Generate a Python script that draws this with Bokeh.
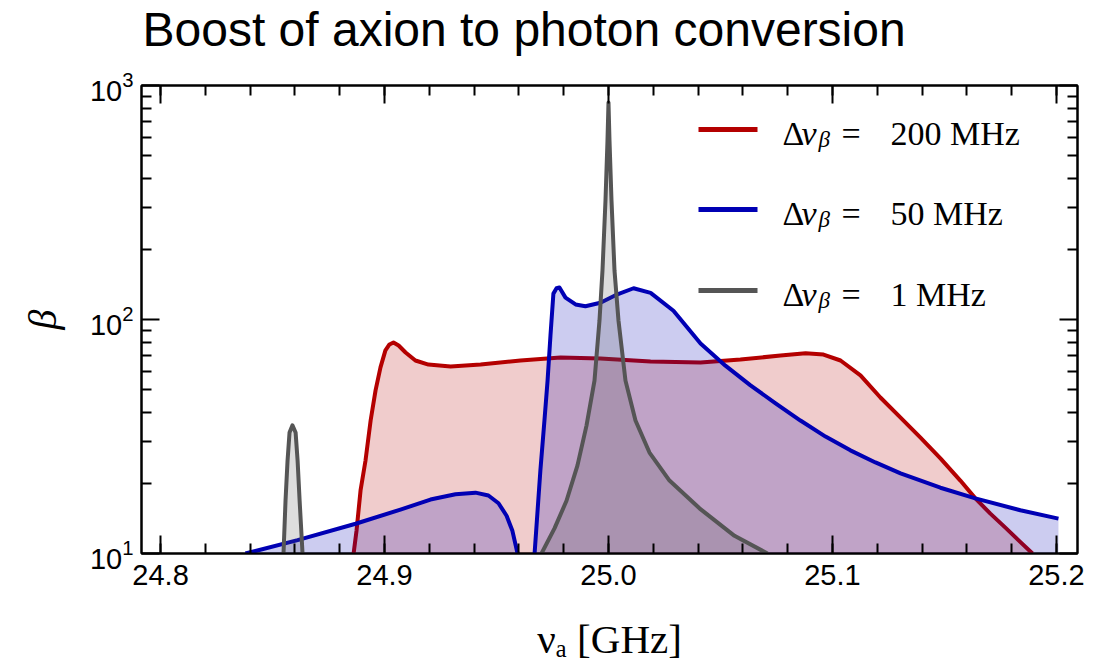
import math
from bokeh.plotting import figure
from bokeh.models import (Range1d, LinearAxis, LogAxis, SingleIntervalTicker, FixedTicker,
                          PrintfTickFormatter, LogTickFormatter, CustomJSTickFormatter,
                          Label, BoxAnnotation)
from bokeh.embed import file_html
from bokeh.resources import INLINE

nan = float("nan")

# ---- data ----
red_x = [24.8862, 24.8875, 24.8893, 24.8915, 24.8938, 24.8960, 24.8982, 24.9004, 24.9022,
         24.9040, 24.9063, 24.9094, 24.9138, 24.9196, 24.9295, 24.9429, 24.9607, 24.9786,
         24.9964, 25.0188, 25.0411, 25.0589, 25.0768, 25.0880, 25.0960, 25.1036, 25.1125,
         25.1214, 25.1304, 25.1393, 25.1482, 25.1571, 25.1638, 25.1705, 25.1772, 25.1830,
         25.1893]
red_y = [10, 12.5, 18.6, 24.9, 37.0, 49.8, 62.4, 73.8, 78.2,
         79.8, 77.4, 72.3, 66.8, 64.2, 63.0, 64.2, 66.8, 68.8,
         68.1, 66.2, 65.5, 67.4, 70.2, 71.7, 70.8, 66.8, 57.7,
         46.4, 38.1, 31.3, 25.5, 20.5, 17.2, 14.8, 12.9, 11.4,
         10]

blue_x = [24.8379, 24.8612, 24.8871, 24.9071, 24.9205, 24.9317, 24.9406, 24.9464, 24.9509,
          24.9545, 24.9571, 24.9594, nan,
          24.9670, 24.9696, 24.9714, 24.9728, 24.9741, 24.9754, 24.9768, 24.9781, 24.9808,
          24.9853, 24.9897, 24.9964, 25.0031, 25.0112, 25.0188, 25.0290, 25.0411, 25.0522,
          25.0634, 25.0746, 25.0857, 25.0969, 25.1080, 25.1192, 25.1304, 25.1482, 25.1638,
          25.1839, 25.2009]
blue_y = [10, 11.4, 13.4, 15.4, 17.0, 17.9, 18.2, 17.7, 16.4,
          14.5, 12.5, 10, nan,
          10, 22.7, 37.0, 54.8, 85.5, 129, 136, 137, 124,
          116, 114, 118, 127, 136, 130, 109, 78.9, 63.5,
          52.3, 43.8, 37.0, 31.6, 27.6, 24.5, 22.0, 19.1, 17.2,
          15.3, 14.1]

gray_x = [24.8549, 24.8558, 24.8567, 24.8576, 24.8589, 24.8603, 24.8612, 24.8621, 24.8634, nan,
          24.97009, 24.97589, 24.98125, 24.98616, 24.99018, 24.99375, 24.99598, 24.99732,
          24.99866, 24.99955, 25.0,
          25.00045, 25.00134, 25.00268, 25.00446, 25.00759, 25.01205, 25.01830, 25.02723,
          25.04063, 25.05625, 25.07098]
gray_y = [10, 16.8, 24.9, 32.9, 35.3, 32.9, 24.9, 16.8, 10, nan,
          10, 12.8, 16.8, 23.8, 35.2, 54.8, 99.0, 162,
          323, 582, 846,
          582, 323, 162, 99.0, 54.8, 37.0, 27.0, 20.5,
          15.6, 11.9, 10]

series_labels = ["200 MHz", "50 MHz", "1 MHz"]
x_ticks_interval = 0.1
y_major_ticks = [10, 100, 1000]
y_minor_ticks = [m * 10 ** k for k in (1, 2) for m in range(2, 10)]
title_text = "Boost of axion to photon conversion"

RED, BLUE, GRAY = "#b40000", "#0000b4", "#555555"
colors = [RED, BLUE, GRAY]

p = figure(width=1102, height=670, y_axis_type="log",
           x_range=Range1d(24.7915, 25.2094), y_range=Range1d(10, 1000),
           output_backend="svg", toolbar_location=None,
           min_border_left=141, min_border_right=25, min_border_top=85, min_border_bottom=117,
           title=title_text)
p.title.text_font = "Liberation Sans"
p.title.text_font_size = "48px"
p.title.text_font_style = "normal"
p.title.text_color = "black"
p.title.align = "left"
p.title.offset = 1
p.title.standoff = 0
p.grid.visible = False
p.background_fill_color = "white"
p.border_fill_color = "white"
p.outline_line_color = "black"
p.outline_line_width = 2


def segments(xs, ys):
    out, cx, cy = [], [], []
    for x, y in zip(xs, ys):
        if math.isnan(x):
            if cx:
                out.append((cx, cy))
            cx, cy = [], []
        else:
            cx.append(x)
            cy.append(y)
    if cx:
        out.append((cx, cy))
    return out


for xs, ys, c in [(red_x, red_y, RED), (blue_x, blue_y, BLUE), (gray_x, gray_y, GRAY)]:
    for sx, sy in segments(xs, ys):
        p.varea(x=sx, y1=[10] * len(sx), y2=sy, fill_color=c, fill_alpha=0.2)
    p.line(xs, ys, line_color=c, line_width=4, line_join="round")


def style(ax, labels=True):
    ax.axis_line_width = 2
    ax.axis_line_color = "black"
    ax.major_tick_in = 18
    ax.major_tick_out = 0
    ax.minor_tick_in = 10
    ax.minor_tick_out = 0
    ax.major_tick_line_width = 2
    ax.minor_tick_line_width = 2
    ax.major_tick_line_color = "black"
    ax.minor_tick_line_color = "black"
    ax.major_label_text_font = "Liberation Sans"
    ax.major_label_text_font_size = "29px"
    ax.major_label_text_color = "black"
    ax.major_label_standoff = 11
    if not labels:
        ax.formatter = CustomJSTickFormatter(code="return ''")
        ax.major_label_text_font_size = "0px"
        ax.major_label_standoff = 0


p.xaxis.ticker = SingleIntervalTicker(interval=x_ticks_interval, num_minor_ticks=5)
p.xaxis.formatter = PrintfTickFormatter(format="%.1f")
style(p.xaxis[0])
p.xaxis.axis_label = "νₐ [GHz]"
p.xaxis.axis_label_text_font = "Liberation Serif"
p.xaxis.axis_label_text_font_style = "normal"
p.xaxis.axis_label_text_font_size = "41px"
p.xaxis.axis_label_text_color = "black"
p.xaxis.axis_label_standoff = 28

p.yaxis.ticker = FixedTicker(ticks=y_major_ticks, minor_ticks=y_minor_ticks)
p.yaxis.formatter = LogTickFormatter()
style(p.yaxis[0])
p.yaxis.major_label_standoff = 8
p.yaxis.axis_label = "β"
p.yaxis.axis_label_text_font = "Liberation Serif"
p.yaxis.axis_label_text_font_style = "italic"
p.yaxis.axis_label_text_font_size = "40px"
p.yaxis.axis_label_text_color = "black"
p.yaxis.axis_label_standoff = 22

top = LinearAxis(ticker=SingleIntervalTicker(interval=x_ticks_interval, num_minor_ticks=5))
style(top, labels=False)
# blank spacer label to leave room between the title and the frame
top.axis_label = " "
top.axis_label_text_font_size = "1px"
top.axis_label_standoff = 26
p.add_layout(top, "above")
right = LogAxis(ticker=FixedTicker(ticks=y_major_ticks, minor_ticks=y_minor_ticks))
style(right, labels=False)
p.add_layout(right, "right")

FL, FB = 141, 553  # frame left / bottom in page pixels
DY = 10            # baseline correction


def lab(px, py, text, size, style="normal"):
    p.add_layout(Label(x=px - FL, y=FB - py + DY, x_units="screen", y_units="screen", text=text,
                       text_font="Liberation Serif", text_font_size=size,
                       text_font_style=style, text_baseline="alphabetic",
                       text_align="left", text_color="black"))


# legend
rows = [(129, 143), (209, 223), (290, 304)]
for (ly, by), c, s in zip(rows, colors, series_labels):
    p.add_layout(BoxAnnotation(left=698 - FL, right=757 - FL, top=FB - (ly - 2.5),
                               bottom=FB - (ly + 2.5), left_units="screen", right_units="screen",
                               top_units="screen", bottom_units="screen",
                               fill_color=c, fill_alpha=1, line_alpha=0))
    lab(782, by, "Δ", "34px")
    lab(801, by, "ν", "34px", "italic")
    lab(818, by + 6, "β", "23px", "italic")
    lab(841, by, "=", "34px")
    lab(890, by, s, "34px")

open("out.html", "w").write(file_html(p, INLINE))
